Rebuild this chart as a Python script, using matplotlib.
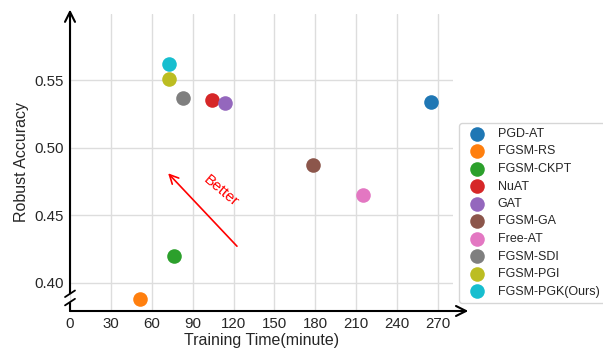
import matplotlib
matplotlib.use("Agg")
import matplotlib.pyplot as plt
import seaborn as sns

methods = ["PGD-AT", "FGSM-RS", "FGSM-CKPT", "NuAT", "GAT", "FGSM-GA",
           "Free-AT", "FGSM-SDI", "FGSM-PGI", "FGSM-PGK(Ours)"]
train_time = [265, 51, 76, 104, 114, 178, 215, 83, 73, 73]
robust_acc = [0.534, 0.388, 0.420, 0.535, 0.533, 0.487, 0.465, 0.537, 0.551, 0.562]

x_ticks = [0, 30, 60, 90, 120, 150, 180, 210, 240, 270]
y_ticks = [0.40, 0.45, 0.50, 0.55]

sns.set_style("whitegrid")
plt.rcParams["font.family"] = ["Liberation Sans", "DejaVu Sans"]

fig = plt.figure(figsize=(6.03, 3.49), dpi=100)
ax = fig.add_axes([70 / 603, 1 - 311 / 349, 383 / 603, 297 / 349])

colors = plt.get_cmap("tab10").colors
for i, name in enumerate(methods):
    ax.scatter(train_time[i], robust_acc[i], s=110, color=colors[i],
               label=name, zorder=3, linewidths=0)

ax.set_xlim(0, 281)
ax.set_ylim(0.379, 0.599)
ax.set_xticks(x_ticks)
ax.set_yticks(y_ticks)
ax.set_yticklabels([f"{v:.2f}" for v in y_ticks])
ax.tick_params(labelsize=10.8, colors="#262626", pad=1)
ax.grid(color="#dddddd", linewidth=1)
for s in ax.spines.values():
    s.set_visible(False)

ax.set_xlabel("Training Time(minute)", fontsize=11.5, color="#262626", labelpad=1)
ax.set_ylabel("Robust Accuracy", fontsize=11.5, color="#262626", labelpad=4)

# axis arrows (y axis is broken near the bottom)
ax.annotate("", xy=(1.04, 0), xytext=(0, 0), xycoords="axes fraction",
            arrowprops=dict(arrowstyle="->", color="black", lw=1.5,
                            mutation_scale=18, shrinkA=0, shrinkB=0))
ax.annotate("", xy=(0, 1.015), xytext=(0, 0.06), xycoords="axes fraction",
            arrowprops=dict(arrowstyle="->", color="black", lw=1.5,
                            mutation_scale=18, shrinkA=0, shrinkB=0))
ax.plot([0, 0], [0, 0.028], transform=ax.transAxes, color="black",
        lw=1.5, clip_on=False, zorder=5)

# break marks
for yb in (0.03, 0.058):
    ax.plot([-0.013, 0.013], [yb - 0.011, yb + 0.011], transform=ax.transAxes,
            color="black", lw=1.3, clip_on=False, zorder=5)

# "Better" direction
ax.annotate("", xy=(72, 0.481), xytext=(122.5, 0.427),
            arrowprops=dict(arrowstyle="->", color="red", lw=1.2,
                            mutation_scale=16, shrinkA=0, shrinkB=0))
ax.text(111, 0.468, "Better", color="red", fontsize=11, rotation=-40,
        ha="center", va="center")

ax.legend(loc="upper left", bbox_to_anchor=(459 / 603, 1 - 123 / 349),
          bbox_transform=fig.transFigure, fontsize=9, frameon=True,
          labelspacing=0.44, handletextpad=0.7, borderpad=0.4,
          scatterpoints=1, borderaxespad=0)

fig.savefig("out.png", dpi=100)
